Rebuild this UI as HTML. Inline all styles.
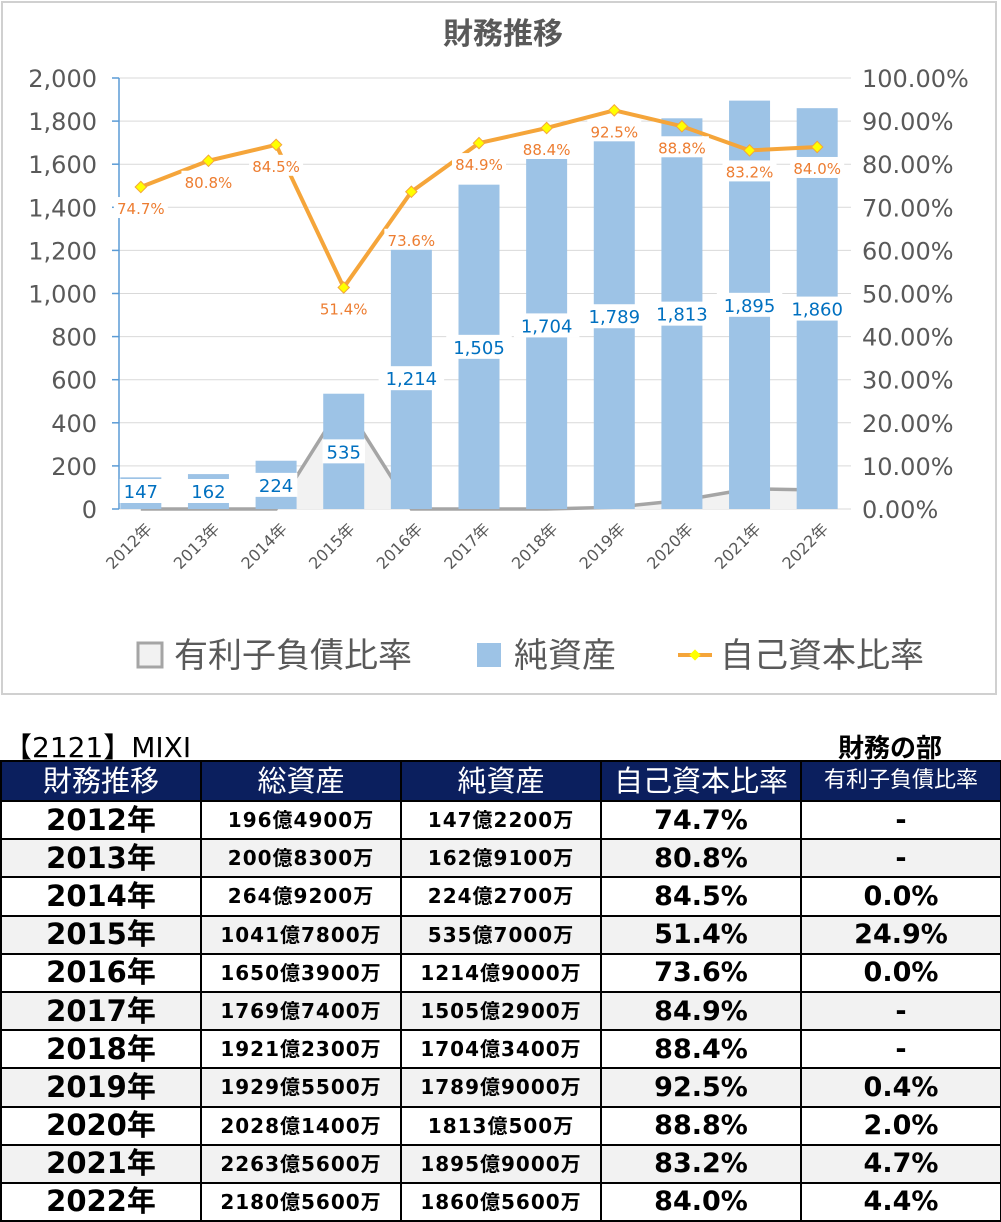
<!DOCTYPE html>
<html><head><meta charset="utf-8">
<style>
body{margin:0;width:1001px;height:1220px;background:#fff;font-family:"DejaVu Sans","Noto Sans CJK JP",sans-serif;overflow:hidden;position:relative}
#chart{position:absolute;left:0;top:0}
.hdr{position:absolute;font-weight:bold;color:#000}
table{position:absolute;left:0;top:760px;width:1000px;border-collapse:collapse;table-layout:fixed}
td,th{border:2px solid #000;text-align:center;padding:0;font-weight:bold;line-height:1;white-space:nowrap;overflow:hidden}
th{background:#0b1f5e;color:#fff;height:38px;font-size:29px;font-weight:normal}
td{height:36.2px}
tr.g td{background:#f2f2f2}
td.y{font-size:29px}
td.m{font-size:20px;letter-spacing:1px}
td.p{font-size:27px}
</style></head><body>
<svg id="chart" width="1001" height="700" xmlns="http://www.w3.org/2000/svg"></svg>
<div class="hdr" style="left:4px;top:726px;font-size:28px;font-weight:normal">【2121】MIXI</div>
<div class="hdr" style="left:838px;top:728px;font-size:26px">財務の部</div>
<table>
<colgroup><col style="width:200px"><col style="width:200px"><col style="width:200px"><col style="width:200px"><col style="width:200px"></colgroup>
<tr><th>財務推移</th><th>総資産</th><th>純資産</th><th>自己資本比率</th><th style="font-size:22px">有利子負債比率</th></tr>
<tr><td class="y">2012年</td><td class="m">196億4900万</td><td class="m">147億2200万</td><td class="p">74.7%</td><td class="p">-</td></tr>
<tr class="g"><td class="y">2013年</td><td class="m">200億8300万</td><td class="m">162億9100万</td><td class="p">80.8%</td><td class="p">-</td></tr>
<tr><td class="y">2014年</td><td class="m">264億9200万</td><td class="m">224億2700万</td><td class="p">84.5%</td><td class="p">0.0%</td></tr>
<tr class="g"><td class="y">2015年</td><td class="m">1041億7800万</td><td class="m">535億7000万</td><td class="p">51.4%</td><td class="p">24.9%</td></tr>
<tr><td class="y">2016年</td><td class="m">1650億3900万</td><td class="m">1214億9000万</td><td class="p">73.6%</td><td class="p">0.0%</td></tr>
<tr class="g"><td class="y">2017年</td><td class="m">1769億7400万</td><td class="m">1505億2900万</td><td class="p">84.9%</td><td class="p">-</td></tr>
<tr><td class="y">2018年</td><td class="m">1921億2300万</td><td class="m">1704億3400万</td><td class="p">88.4%</td><td class="p">-</td></tr>
<tr class="g"><td class="y">2019年</td><td class="m">1929億5500万</td><td class="m">1789億9000万</td><td class="p">92.5%</td><td class="p">0.4%</td></tr>
<tr><td class="y">2020年</td><td class="m">2028億1400万</td><td class="m">1813億500万</td><td class="p">88.8%</td><td class="p">2.0%</td></tr>
<tr class="g"><td class="y">2021年</td><td class="m">2263億5600万</td><td class="m">1895億9000万</td><td class="p">83.2%</td><td class="p">4.7%</td></tr>
<tr><td class="y">2022年</td><td class="m">2180億5600万</td><td class="m">1860億5600万</td><td class="p">84.0%</td><td class="p">4.4%</td></tr>
</table>
<script>
const categories=["2012年","2013年","2014年","2015年","2016年","2017年","2018年","2019年","2020年","2021年","2022年"];
const netAssets=[147,162,224,535,1214,1505,1704,1789,1813,1895,1860];
const equityRatio=[74.7,80.8,84.5,51.4,73.6,84.9,88.4,92.5,88.8,83.2,84.0];
const debtRatio=[0,0,0,24.9,0,0,0,0.4,2.0,4.7,4.4];
const leftTicks=[0,200,400,600,800,1000,1200,1400,1600,1800,2000];
const rightTicks=[0,10,20,30,40,50,60,70,80,90,100];

const svg=document.getElementById('chart');
const NS='http://www.w3.org/2000/svg';
function mk(tag,attrs,parent){const e=document.createElementNS(NS,tag);for(const k in attrs)e.setAttribute(k,attrs[k]);(parent||svg).appendChild(e);return e;}
const x0=107,x1=851,yTop=78,yBot=509;
const step=(x1-x0)/categories.length;
const xc=i=>x0+step*(i+0.5);
const yL=v=>yBot-(v/2000)*(yBot-yTop);
const yR=v=>yBot-(v/100)*(yBot-yTop);
const gray='#595959';

const frame=mk('rect',{x:2,y:2,width:994,height:692,fill:'#fff',stroke:'#d0d0d0','stroke-width':2});


const title=mk('text',{x:503,y:44,'text-anchor':'middle','font-size':30,'font-weight':'bold',fill:gray});
title.textContent='財務推移';



leftTicks.forEach((t,i)=>{
  const g=mk('line',{x1:x0+12,x2:x1,y1:yL(t),y2:yL(t),stroke:'#d9d9d9','stroke-width':1});
  
  
  const tk=mk('line',{x1:x0+5,x2:x0+12,y1:yL(t),y2:yL(t),stroke:'#5b9bd5','stroke-width':1.5});
  
  
  const l=mk('text',{x:97,y:yL(t)+9,'text-anchor':'end','font-size':24,fill:gray});
  l.textContent=t.toLocaleString('en-US');
  
  
});
const ax=mk('line',{x1:x0+12,x2:x0+12,y1:yTop,y2:yBot,stroke:'#5b9bd5','stroke-width':1.5});


rightTicks.forEach(t=>{
  const l=mk('text',{x:862,y:yR(t)+9,'font-size':24,fill:gray});
  l.textContent=t.toFixed(2)+'%';
  
  
});

let pts=debtRatio.map((v,i)=>xc(i)+','+yR(v));
const area=mk('polygon',{points:xc(0)+','+yBot+' '+pts.join(' ')+' '+xc(categories.length-1)+','+yBot,fill:'#f2f2f2'});


const aline=mk('polyline',{points:pts.join(' '),fill:'none',stroke:'#a5a5a5','stroke-width':3.5});



const bw=41;
netAssets.forEach((v,i)=>{
  const b=mk('rect',{x:xc(i)-bw/2,y:yL(v),width:bw,height:yBot-yL(v),fill:'#9dc3e6'});
  
  
});
netAssets.forEach((v,i)=>{
  const s=v.toLocaleString('en-US');
  const w=s.length*11.5+8;
  const cy=Math.min((yL(v)+yBot)/2,491);
  const bg=mk('rect',{x:xc(i)-w/2,y:cy-12,width:w,height:24,fill:'#fff'});
  
  
  const t=mk('text',{x:xc(i),y:cy+7,'text-anchor':'middle','font-size':18,fill:'#0070c0'});
  t.textContent=s;
  
  
});

const lpts=equityRatio.map((v,i)=>xc(i)+','+yR(v)).join(' ');
const el=mk('polyline',{points:lpts,fill:'none',stroke:'#f5a53a','stroke-width':4,'stroke-linejoin':'round'});


equityRatio.forEach((v,i)=>{
  const m=mk('rect',{x:xc(i)-4,y:yR(v)-4,width:8,height:8,fill:'#ffff00',stroke:'#f5a53a','stroke-width':1,transform:'rotate(45 '+xc(i)+' '+yR(v)+')'});
  
  
  const off=(i===4)?48:21;
  const bg=mk('rect',{x:xc(i)-27,y:yR(v)+off-11,width:54,height:21,fill:'#fff'});
  
  
  const t=mk('text',{x:xc(i),y:yR(v)+off+6,'text-anchor':'middle','font-size':15,fill:'#ed7d31'});
  t.textContent=v.toFixed(1)+'%';
  
  
});

categories.forEach((c,i)=>{
  const t=mk('text',{x:xc(i)+12,y:530,'text-anchor':'end','font-size':16,fill:gray,transform:'rotate(-45 '+(xc(i)+12)+' 530)'});
  t.textContent=c;
  
  
});

const lg=mk('g',{});


const s1=mk('rect',{x:138,y:643,width:24,height:24,fill:'#f2f2f2',stroke:'#a5a5a5','stroke-width':3},lg);


const t1=mk('text',{x:174,y:667,'font-size':34,fill:gray},lg);
t1.textContent='有利子負債比率';


const s2=mk('rect',{x:477,y:643,width:24,height:24,fill:'#9dc3e6'},lg);


const t2=mk('text',{x:514,y:667,'font-size':34,fill:gray},lg);
t2.textContent='純資産';


const s3=mk('line',{x1:678,x2:712,y1:655,y2:655,stroke:'#f5a53a','stroke-width':4},lg);


const s4=mk('rect',{x:691,y:651,width:8,height:8,fill:'#ffff00',transform:'rotate(45 695 655)'},lg);


const t3=mk('text',{x:720,y:667,'font-size':34,fill:gray},lg);
t3.textContent='自己資本比率';


</script>
</body></html>
